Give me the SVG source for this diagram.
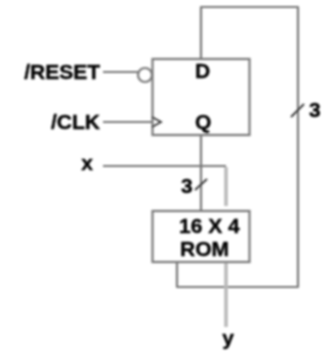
<svg xmlns="http://www.w3.org/2000/svg" width="322" height="352" viewBox="0 0 322 352">
<defs>
<filter id="soft" x="-5%" y="-5%" width="110%" height="110%"><feGaussianBlur stdDeviation="0.8"/></filter>
<style>
text{font-family:"Liberation Sans",Arial,sans-serif;font-weight:700;font-size:21px;fill:#000;stroke:#000;stroke-width:0.4px}
.w{fill:none;stroke:#777;stroke-width:2.200;stroke-linejoin:round}
.l{fill:none;stroke:#b8b8b8;stroke-width:3.500}
.b{fill:none;stroke:#777;stroke-width:2.200}
.s{fill:none;stroke:#333;stroke-width:1.800}
</style>
</defs>
<rect width="322" height="352" fill="#fff"/>
<g filter="url(#soft)">
<g id="connectors">
<path class="w" d="M201 59V7H298V287H177V262"/>
<path class="w" d="M201 135V211"/>
<path class="w" d="M103 72H138"/>
<path class="w" d="M103 122H152"/>
<path class="w" d="M103 166H226"/>
<path class="l" d="M226 167V206"/>
<path class="l" d="M226 262V327"/>
<path class="s" d="M291 117L304 104"/>
<path class="s" d="M195 190L207 179"/>
<text x="309" y="117">3</text>
<text x="181" y="193">3</text>
</g>
<g id="flipflop">
<rect class="b" x="152.500" y="59" width="97" height="76"/>
<circle class="b" cx="145" cy="75" r="7"/>
<path class="s" d="M152 117L161 122L152 127"/>
<text x="195" y="78">D</text>
<text x="195" y="129">Q</text>
</g>
<g id="rom">
<rect class="b" x="152.500" y="211" width="97" height="51"/>
<text x="179" y="233">16 X 4</text>
<text x="180" y="256">ROM</text>
</g>
<g id="labels">
<text x="100" y="79" text-anchor="end">/RESET</text>
<text x="100" y="129" text-anchor="end">/CLK</text>
<text x="93" y="170" text-anchor="end">x</text>
<text x="228" y="345" text-anchor="middle">y</text>
</g>
</g>
</svg>
